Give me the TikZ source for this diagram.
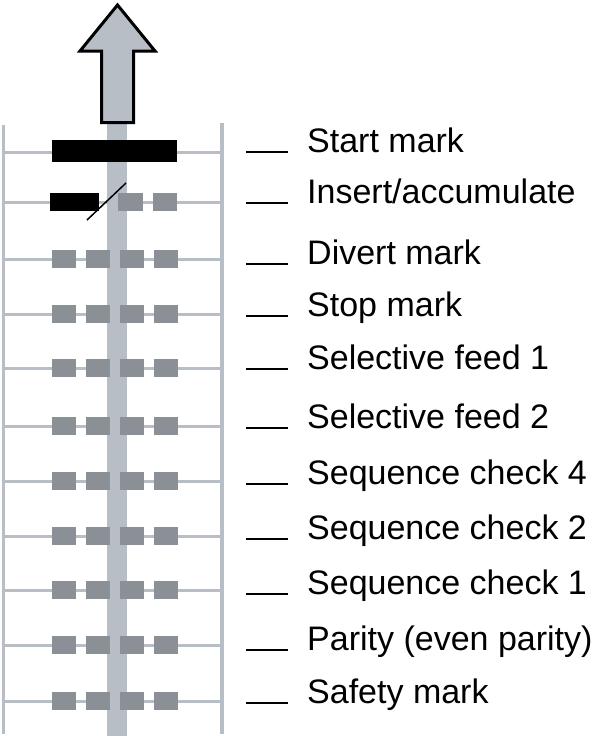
\documentclass[tikz,border=0pt]{standalone}
\usepackage{fontspec}
\setmainfont{Liberation Sans}
\definecolor{railgray}{HTML}{B8BEC6}
\definecolor{markgray}{HTML}{8A9096}
\tikzstyle{rail}=[draw=railgray, line width=3.5pt]
\tikzstyle{rung}=[draw=railgray, line width=3pt]
\tikzstyle{hole}=[fill=markgray]
\tikzstyle{tag}=[anchor=base west, inner sep=0pt, font=\fontsize{34}{40}\selectfont]
\tikzstyle{tick}=[draw=black, line width=2pt]

\begin{document}
\begin{tikzpicture}[x=1pt, y=-1pt]
\useasboundingbox (0,0) rectangle (593,736);

% tape edges and rungs
\draw[rail] (3.5,125) -- (3.5,734);
\draw[rail] (222,123) -- (222,734);
\foreach \y in {152,202,259,314,368,426,481,536,590,645,701}
  \draw[rung] (3.5,\y) -- (222,\y);

% guide band and direction arrow
\fill[railgray] (107,124) rectangle (127,736);
\draw[fill=railgray, line width=3pt] (117.5,5) -- (155,51) -- (133.5,51) -- (133.5,122.5)
  -- (101.5,122.5) -- (101.5,51) -- (80,51) -- cycle;

% marks
\fill[black] (52,140) rectangle (177,162);
\fill[black] (50,193) rectangle (99,211);
\fill[hole] (118,193) rectangle (143,211);
\fill[hole] (153,193) rectangle (177,211);
\draw[line width=1.5pt] (87,220) -- (126,183);
\foreach \y in {259,314,368,426,481,536,590,645,701}
  \foreach \x in {52,86,120,154}
    \fill[hole] ({\x},{\y-9}) rectangle ++(24,18);

% labels
\node[tag] (start) at (307,152) {Start mark};
\node[tag] (insert) at (307,203) {Insert/accumulate};
\node[tag] (divert) at (307,264) {Divert mark};
\node[tag] (stop) at (307,316) {Stop mark};
\node[tag] (feedA) at (307,369) {Selective feed 1};
\node[tag] (feedB) at (307,428) {Selective feed 2};
\node[tag] (seqD) at (307,484) {Sequence check 4};
\node[tag] (seqB) at (307,539) {Sequence check 2};
\node[tag] (seqA) at (307,594) {Sequence check 1};
\node[tag] (parity) at (307,650) {Parity (even parity)};
\node[tag] (safety) at (307,703) {Safety mark};

\foreach \n in {start,insert,divert,stop,feedA,feedB,seqD,seqB,seqA,parity,safety}
  \draw[tick] ([xshift=-61pt]\n.base west) -- ([xshift=-19pt]\n.base west);

\end{tikzpicture}
\end{document}
